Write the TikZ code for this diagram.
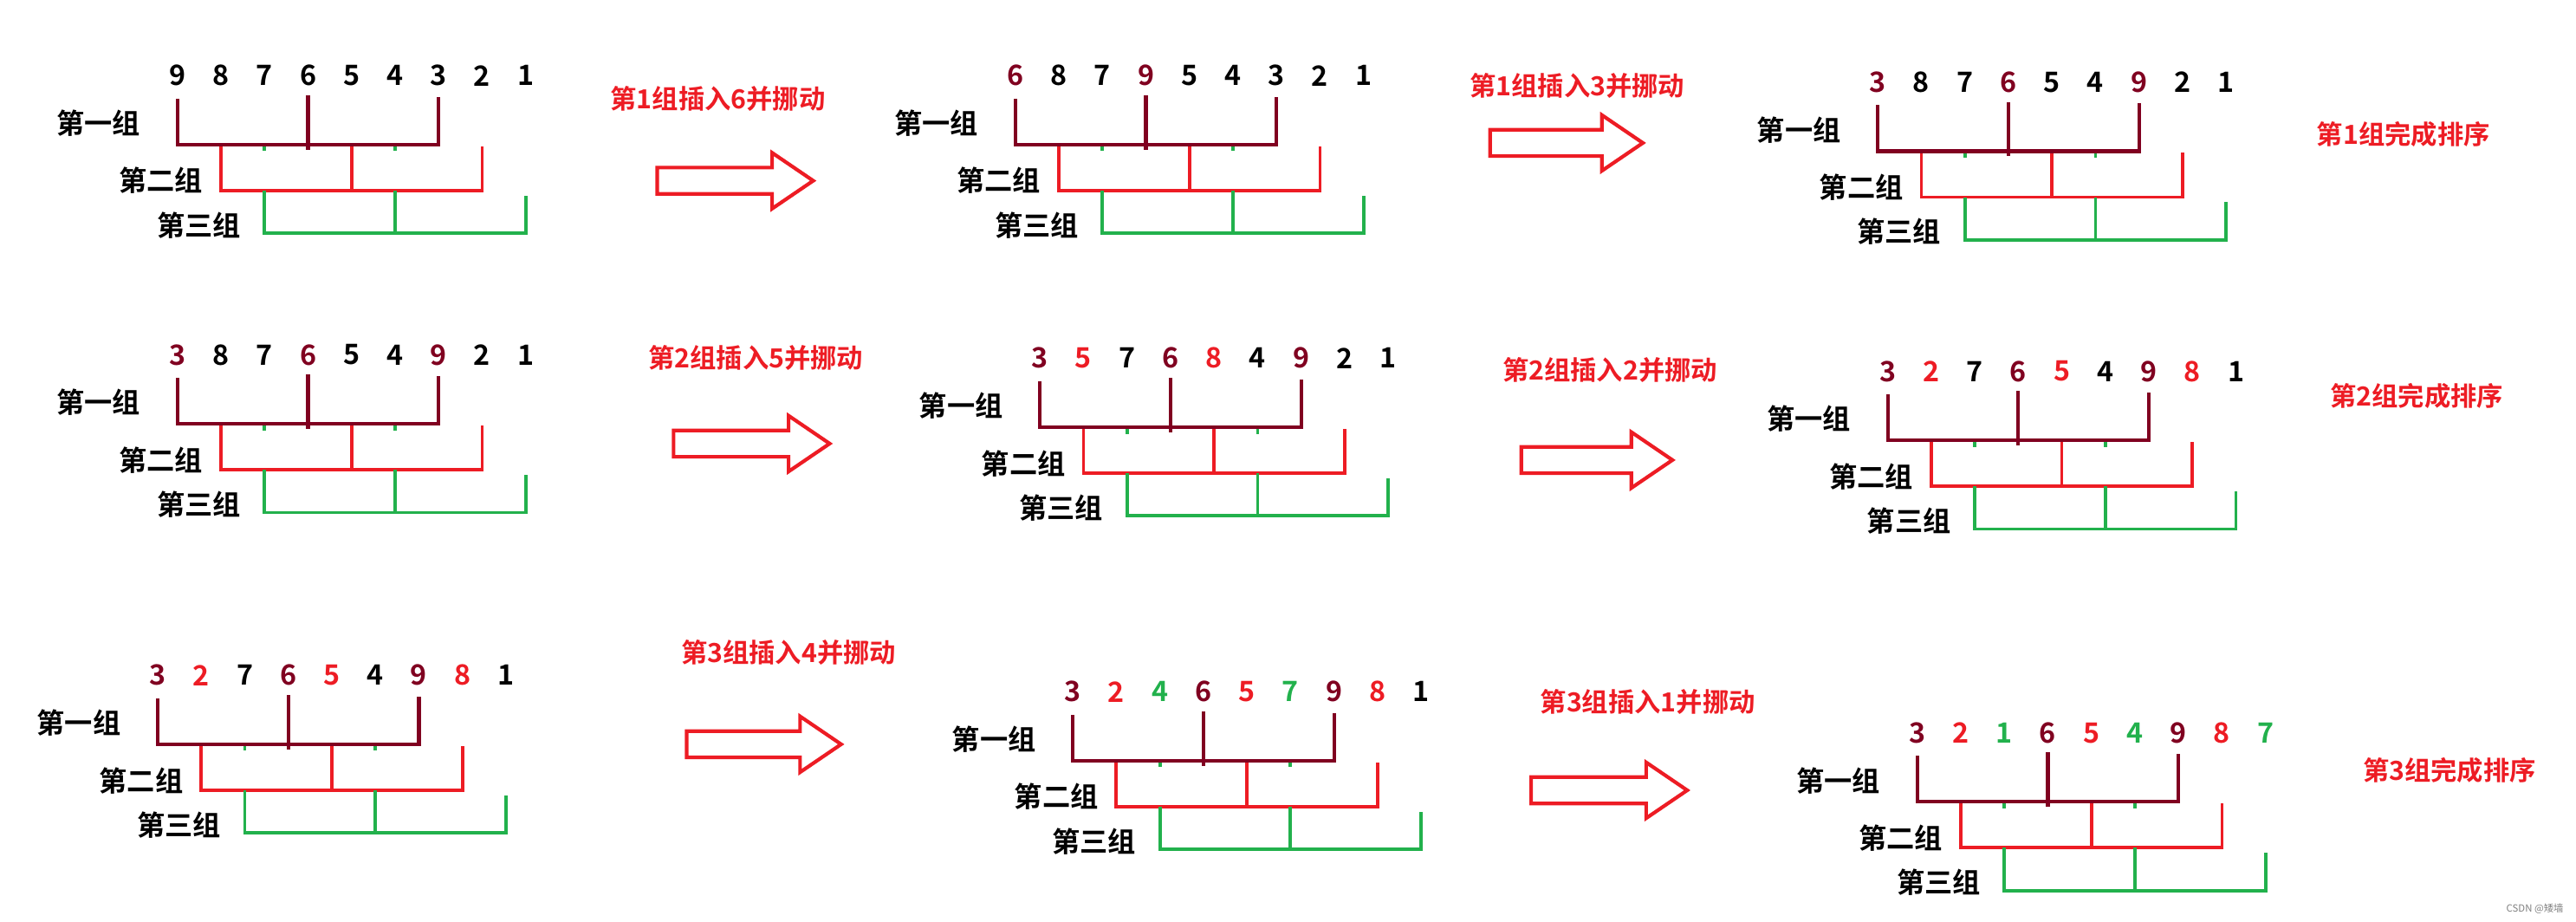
\documentclass[tikz,border=0pt]{standalone}
\usepackage{fontspec}
\setmainfont{Noto Sans CJK SC}
\newfontfamily\cjkb{Noto Sans CJK SC Bold}
\definecolor{dk}{RGB}{128,0,32}
\definecolor{rd}{RGB}{237,28,36}
\definecolor{gn}{RGB}{34,177,76}
\definecolor{bk}{RGB}{0,0,0}
\tikzset{
 dig/.style={font=\cjkb\fontsize{17}{17}\selectfont,inner sep=0pt},
 lab/.style={font=\cjkb\fontsize{17}{17}\selectfont,inner sep=0pt},
 ttl/.style={font=\cjkb\fontsize{16}{16}\selectfont,text=rd,inner sep=0pt},
 g1/.style={draw=dk,line width=2.2pt},
 g2/.style={draw=rd,line width=2pt},
 g3/.style={draw=gn,line width=2pt},
 barrow/.style={draw=rd,line width=2.2pt,line join=miter},
}
\newcommand\grp[4]{%
\begin{scope}[shift={(#2,#3)}]
\foreach \c/\d [count=\i from 0] in {#4} \node[dig,text=\c] (#1d\i) at (\i*26.5,0) {\d};
\draw[g3] (53,41) -- (53,46);
\draw[g3] (132.5,41) -- (132.5,46);
\draw[g2] (26.5,42) -- (26.5,70) -- (185.5,70) -- (185.5,43);
\draw[g2] (106,41) -- (106,71);
\draw[g1] (0,14) -- (0,42) -- (159,42) -- (159,13);
\draw[g1] (79.5,12) -- (79.5,45);
\draw[g3] (53,70) -- (53,96) -- (212,96) -- (212,73);
\draw[g3] (132.5,70) -- (132.5,96);
\node[lab] (#1la) at (-48,29) {第一组};
\node[lab] (#1lb) at (-10,64) {第二组};
\node[lab] (#1lc) at (13,91) {第三组};
\end{scope}}
\newcommand\barr[4]{% name, cx, cy, length
\begin{scope}[shift={(#2,#3)}]
\coordinate (#1) at (0,0);
\draw[barrow] (-#4/2,-8) -- (#4/2-25,-8) -- (#4/2-25,-17) -- (#4/2,0) -- (#4/2-25,17) -- (#4/2-25,8) -- (-#4/2,8) -- cycle;
\end{scope}}
\begin{document}
\begin{tikzpicture}[x=1pt,y=-1pt]
\useasboundingbox (0,0) rectangle (1568,561);
\grp{a}{108}{46}{bk/9,bk/8,bk/7,bk/6,bk/5,bk/4,bk/3,bk/2,bk/1}
\grp{b}{618}{46}{dk/6,bk/8,bk/7,dk/9,bk/5,bk/4,bk/3,bk/2,bk/1}
\grp{c}{1143}{50}{dk/3,bk/8,bk/7,dk/6,bk/5,bk/4,dk/9,bk/2,bk/1}
\grp{d}{108}{216}{dk/3,bk/8,bk/7,dk/6,bk/5,bk/4,dk/9,bk/2,bk/1}
\grp{e}{633}{218}{dk/3,rd/5,bk/7,dk/6,rd/8,bk/4,dk/9,bk/2,bk/1}
\grp{f}{1149}{226}{dk/3,rd/2,bk/7,dk/6,rd/5,bk/4,dk/9,rd/8,bk/1}
\grp{g}{96}{411}{dk/3,rd/2,bk/7,dk/6,rd/5,bk/4,dk/9,rd/8,bk/1}
\grp{h}{653}{421}{dk/3,rd/2,gn/4,dk/6,rd/5,gn/7,dk/9,rd/8,bk/1}
\grp{i}{1167}{446}{dk/3,rd/2,gn/1,dk/6,rd/5,gn/4,dk/9,rd/8,gn/7}
\barr{ar1}{447.5}{110}{95}
\barr{ar2}{953.5}{87}{93}
\barr{ar3}{457.5}{270}{95}
\barr{ar4}{972}{280}{92}
\barr{ar5}{465}{453}{94}
\barr{ar6}{979.5}{481}{95}
\node[ttl] (t1) at (437,60) {第1组插入6并挪动};
\node[ttl] (t2) at (960,52) {第1组插入3并挪动};
\node[ttl] (t3) at (460,218) {第2组插入5并挪动};
\node[ttl] (t4) at (980,225) {第2组插入2并挪动};
\node[ttl] (t5) at (480,397) {第3组插入4并挪动};
\node[ttl] (t6) at (1003,427) {第3组插入1并挪动};
\node[ttl] (c1) at (1463,82) {第1组完成排序};
\node[ttl] (c2) at (1471,241) {第2组完成排序};
\node[ttl] (c3) at (1491,469) {第3组完成排序};
\node[font=\fontsize{6}{6}\selectfont,text=gray,inner sep=0pt] (wm) at (1543,553) {CSDN @矮墙};
\end{tikzpicture}
\end{document}
